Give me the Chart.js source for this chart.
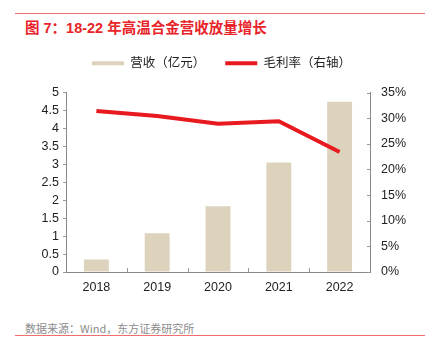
<!DOCTYPE html>
<html>
<head>
<meta charset="utf-8">
<script src="https://cdn.jsdelivr.net/npm/chart.js@4.4.1/dist/chart.umd.min.js"></script>
<style>
  html, body { margin: 0; padding: 0; background: #fff; }
  #wrap { position: relative; width: 425px; height: 350px; overflow: hidden; font-family: "Liberation Sans", "Noto Sans CJK SC", sans-serif; }
  #topline { position: absolute; left: 15px; top: 13px; width: 410px; height: 1px; background: #ef6f6f; }
  #title { position: absolute; left: 25px; top: 16px; font-size: 14.5px; font-weight: bold; color: #e8242a; white-space: nowrap; font-family: "Liberation Sans", "Noto Sans CJK SC", sans-serif; }
  #source { position: absolute; left: 25px; top: 320px; font-size: 11px; color: #8c8c8c; white-space: nowrap; font-family: "Noto Sans CJK SC", sans-serif; }
  #bottomline { position: absolute; left: 15px; top: 335px; width: 410px; height: 1px; background: #ef6f6f; }
  #cv { position: absolute; left: 0; top: 37px; }
</style>
</head>
<body>
<div id="wrap">
  <div id="topline"></div>
  <div id="title">图 7：18-22 年高温合金营收放量增长</div>
  <canvas id="cv" width="425" height="268"></canvas>
  <div id="source">数据来源：Wind，东方证券研究所</div>
  <div id="bottomline"></div>
</div>
<script>
const categories = ["2018", "2019", "2020", "2021", "2022"];
const revenue = [0.35, 1.08, 1.83, 3.05, 4.74];
const grossMargin = [31.4, 30.4, 28.9, 29.4, 23.4];
const leftTicks = [0, 0.5, 1, 1.5, 2, 2.5, 3, 3.5, 4, 4.5, 5];
const rightTicks = [0, 5, 10, 15, 20, 25, 30, 35];
const seriesNames = ["营收（亿元）", "毛利率（右轴）"];

const FONT = "'Liberation Sans', 'Noto Sans CJK SC', sans-serif";

const legendGap = {
  id: 'legendGap',
  beforeUpdate(chart) {
    const lg = chart.legend;
    if (lg && !lg._gapPatched) {
      const fit = lg.fit;
      lg.fit = function () { fit.call(this); this.height += 13; };
      lg._gapPatched = true;
    }
  }
};

const inwardTicks = {
  id: 'inwardTicks',
  afterDraw(chart) {
    const ctx = chart.ctx;
    const a = chart.chartArea;
    ctx.save();
    ctx.strokeStyle = '#999';
    ctx.lineWidth = 1;
    const n = chart.data.labels.length;
    const w = (a.right - a.left) / n;
    for (let i = 1; i < n; i++) {
      const x = Math.round(a.left + i * w) + 0.5;
      ctx.beginPath();
      ctx.moveTo(x, a.bottom);
      ctx.lineTo(x, a.bottom - 4);
      ctx.stroke();
    }
    const s = chart.scales.y1;
    s.ticks.forEach(t => {
      const y = Math.round(s.getPixelForValue(t.value)) + 0.5;
      ctx.beginPath();
      ctx.moveTo(a.right, y);
      ctx.lineTo(a.right - 3, y);
      ctx.stroke();
    });
    ctx.restore();
  }
};

new Chart(document.getElementById('cv'), {
  data: {
    labels: categories,
    datasets: [
      {
        type: 'bar',
        label: seriesNames[0],
        data: revenue,
        backgroundColor: '#ddd3bc',
        borderWidth: 0,
        yAxisID: 'y',
        order: 2,
        barPercentage: 0.82,
        categoryPercentage: 0.5
      },
      {
        type: 'line',
        label: seriesNames[1],
        data: grossMargin,
        borderColor: '#e8191f',
        backgroundColor: '#e8191f',
        borderWidth: 4,
        pointRadius: 0,
        tension: 0,
        yAxisID: 'y1',
        order: 1
      }
    ]
  },
  plugins: [legendGap, inwardTicks],
  options: {
    responsive: false,
    animation: false,
    layout: { padding: { top: 0, right: 0, left: 18, bottom: 0 } },
    plugins: {
      tooltip: { enabled: false },
      legend: {
        display: true,
        position: 'top',
        labels: {
          boxWidth: 32,
          boxHeight: 4,
          padding: 20,
          color: '#222',
          font: { size: 12.5, family: FONT },
          sort: (a, b) => a.datasetIndex - b.datasetIndex,
          generateLabels: (chart) => {
            const items = Chart.defaults.plugins.legend.labels.generateLabels(chart);
            items.forEach(it => { it.lineWidth = 0; it.strokeStyle = 'rgba(0,0,0,0)'; });
            return items;
          }
        }
      }
    },
    scales: {
      x: {
        offset: true,
        grid: { display: true, drawOnChartArea: false, drawTicks: false, offset: true },
        border: { color: '#888' },
        ticks: { color: '#222', font: { size: 12.5, family: FONT }, padding: 8 },
        afterFit: (s) => { s.height = 33; }
      },
      y: {
        position: 'left',
        min: 0, max: 5,
        afterBuildTicks: (s) => { s.ticks = leftTicks.map(v => ({ value: v })); },
        grid: { display: true, drawOnChartArea: false, tickLength: 3, color: '#999' },
        border: { color: '#888' },
        ticks: { color: '#222', font: { size: 12.5, family: FONT }, padding: 4, autoSkip: false, callback: (v) => String(+v) },
        afterFit: (s) => { s.width = 48; }
      },
      y1: {
        position: 'right',
        min: 0, max: 35,
        afterBuildTicks: (s) => { s.ticks = rightTicks.map(v => ({ value: v })); },
        grid: { display: true, drawOnChartArea: false, drawTicks: false },
        border: { color: '#888' },
        ticks: { color: '#222', font: { size: 12.5, family: FONT }, padding: 11, autoSkip: false, callback: (v) => v + '%' },
        afterFit: (s) => { s.width = 55; }
      }
    }
  }
});
</script>
</body>
</html>
